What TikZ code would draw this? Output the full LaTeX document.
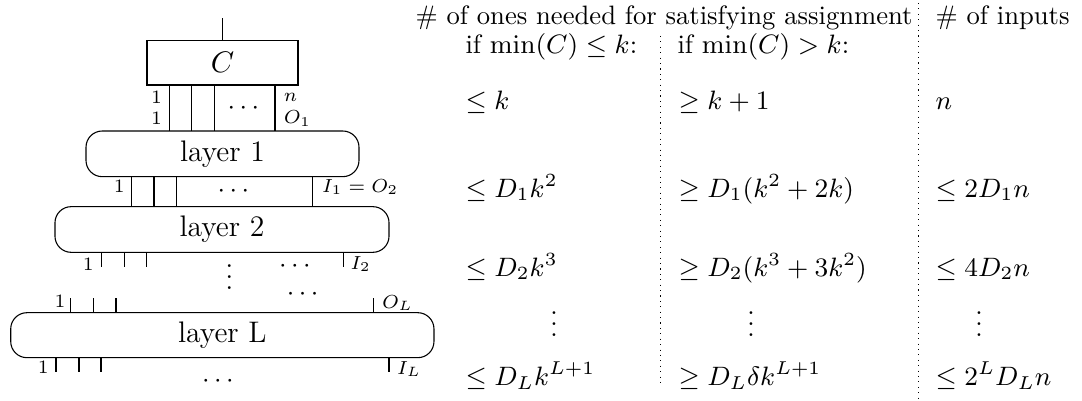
\RequirePackage{fix-cm}
\documentclass[tikz,border=0pt]{standalone}
\begin{document}
\begin{tikzpicture}[x=0.37pt,y=-0.37pt,
  box/.style={draw,inner sep=0pt,outer sep=0pt,font=\fontsize{11}{13}\selectfont},
  layerbox/.style={box,rounded corners=6pt},
  lbl/.style={inner sep=0pt,font=\fontsize{7}{8}\selectfont},
  lblw/.style={lbl,anchor=west},
  dts/.style={inner sep=0pt,anchor=base},
  txt/.style={inner sep=0pt,anchor=base west,font=\fontsize{9.85}{11}\selectfont},
  tdts/.style={dts,font=\fontsize{9.85}{11}\selectfont},
  sep/.style={dash pattern=on 0.4pt off 1.6pt},
]
\useasboundingbox (0,0) rectangle (1082,401);
% ---- circuit boxes
\node[box,minimum width=55.87pt,minimum height=16.47pt] (C) at (222.5,62.75) {$C$};
\node[layerbox,minimum width=101pt,minimum height=16.9pt] (L1) at (222.5,153.85) {layer 1};
\node[layerbox,minimum width=123.6pt,minimum height=16.9pt] (L2) at (222,229.5) {layer 2};
\node[layerbox,minimum width=156.6pt,minimum height=16.65pt] (LL) at (222.35,335.2) {layer L};
% output wire
\draw (C.north) -- ++(0,-22.5);
% wires C -> layer 1
\foreach \x in {169.3,191.7,214.3,275} \draw (C.south -| \x,0) -- (L1.north -| \x,0);
% wires layer 1 -> layer 2
\foreach \x in {131.7,154,176.3,312.7} \draw (L1.south -| \x,0) -- (L2.north -| \x,0);
% ticks below layer 2
\foreach \x in {101.2,124.2,146.5,343.3} \draw (L2.south -| \x,0) -- ++(0,14.4);
% ticks above layer L
\foreach \x in {70.7,93.3,116,373.3} \draw (LL.north -| \x,0) -- ++(0,-14.4);
% ticks below layer L
\foreach \x in {56,79,101,389} \draw (LL.south -| \x,0) -- ++(0,14);
% dots
\node[dts] (c1) at (243.3,115) {$\cdots$};
\node[dts] (c2) at (233.3,197.7) {$\cdots$};
\node[dts] (c3) at (295,272.7) {$\cdots$};
\node[dts] (v1) at (229.3,289.5) {$\vdots$};
\node[dts] (c4) at (302.7,300.5) {$\cdots$};
\node[dts] (c5) at (218,387.7) {$\cdots$};
% small labels
\node[lbl] (a1) at (156.5,97) {1};
\node[lbl] (a2) at (156.5,118.7) {1};
\node[lblw] (an) at (283.3,97.7) {$n$};
\node[lblw] (ao) at (283.3,118.2) {$O_1$};
\node[lbl] (b1) at (119.3,186) {1};
\node[lblw] (bi) at (321.7,187) {$I_1 = O_2$};
\node[lbl] (d1) at (88.3,264) {1};
\node[lblw] (di) at (350,264) {$I_2$};
\node[lbl] (e1) at (60,301.7) {1};
\node[lblw] (eo) at (381.7,303) {$O_L$};
\node[lbl] (f1) at (43.3,367.5) {1};
\node[lblw] (fi) at (396.7,369) {$I_L$};
% ---- table
\node[txt] (h1) at (415,25) {\# of ones needed for satisfying assignment};
\node[txt] (h2) at (935,25) {\# of inputs};
\node[txt] (s1) at (465,54) {if $\min(C)\le k$:};
\node[txt] (s2) at (677,54) {if $\min(C)> k$:};
\node[txt] (r11) at (465,110) {$\le k$};
\node[txt] (r12) at (678,110) {$\ge k+1$};
\node[txt] (r13) at (935,110) {$n$};
\node[txt] (r21) at (465,198) {$\le D_1k^2$};
\node[txt] (r22) at (678,198) {$\ge D_1(k^2+2k)$};
\node[txt] (r23) at (935,198) {$\le 2D_1n$};
\node[txt] (r31) at (465,277) {$\le D_2k^3$};
\node[txt] (r32) at (678,277) {$\ge D_2(k^3+3k^2)$};
\node[txt] (r33) at (935,277) {$\le 4D_2n$};
\node[tdts] (r41) at (554,336.5) {$\vdots$};
\node[tdts] (r42) at (751,336.5) {$\vdots$};
\node[tdts] (r43) at (979,336.5) {$\vdots$};
\node[txt] (r51) at (465,386) {$\le D_Lk^{L+1}$};
\node[txt] (r52) at (678,386) {$\ge D_L\delta k^{L+1}$};
\node[txt] (r53) at (935,386) {$\le 2^LD_Ln$};
% separators
\coordinate (p1t) at (660.7,36);
\coordinate (p1b) at (660.7,385);
\coordinate (p2t) at (918.7,3);
\coordinate (p2b) at (918.7,401);
\draw[sep] (p1t) -- (p1b);
\draw[sep] (p2t) -- (p2b);
\end{tikzpicture}
\end{document}
